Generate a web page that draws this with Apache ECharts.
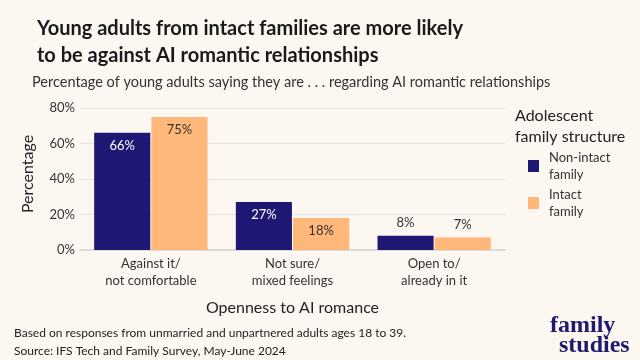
<!DOCTYPE html>
<html><head><meta charset="utf-8">
<script src="https://cdn.jsdelivr.net/npm/echarts@6/dist/echarts.min.js"></script>
<style>html,body{margin:0;padding:0;background:#fdf7f2}#c{width:640px;height:360px}</style>
</head><body><div id="c"></div>
<script>
const categories = ['Against it/\nnot comfortable', 'Not sure/\nmixed feelings', 'Open to/\nalready in it'];
const nonIntact = [66, 27, 8];
const intact = [75, 18, 7];
const yTicks = [0, 20, 40, 60, 80];
const seriesNames = ['Non-intact\nfamily', 'Intact\nfamily'];

const F = 'Lato';
const chart = echarts.init(document.getElementById('c'));
function mk(vals, white) {
  return vals.map(v => ({
    value: v,
    label: { position: v >= 15 ? 'insideTop' : 'top', color: (v >= 15 && white) ? '#ffffff' : '#333333' }
  }));
}
chart.setOption({
  backgroundColor: '#fdf7f2',
  animation: false,
  title: [
    { text: 'Young adults from intact families are more likely\nto be against AI romantic relationships', left: 32, top: 10,
      textStyle: { fontFamily: F, fontWeight: 'bold', fontSize: 20, color: '#1a1a1a', lineHeight: 27 } },
    { text: 'Percentage of young adults saying they are . . . regarding AI romantic relationships', left: 32, top: 73, padding: 0,
      textStyle: { fontFamily: F, fontWeight: 'normal', fontSize: 14.5, color: '#333333', lineHeight: 18 } },
    { text: 'Based on responses from unmarried and unpartnered adults ages 18 to 39.\nSource: IFS Tech and Family Survey, May-June 2024', left: 14, top: 324, padding: 0,
      textStyle: { fontFamily: F, fontWeight: 'normal', fontSize: 12, color: '#222222', lineHeight: 18 } }
  ],
  grid: { left: 80, right: 135, top: 108, bottom: 110 },
  legend: {
    orient: 'vertical', left: 528, top: 149, itemWidth: 11, itemHeight: 12, itemGap: 3,
    icon: 'rect', padding: 0,
    textStyle: { fontFamily: F, fontSize: 13, color: '#333333', lineHeight: 17, padding: [0, 0, 0, 5] },
    data: seriesNames
  },
  graphic: [
    { type: 'text', left: 515, top: 105, style: { text: 'Adolescent\nfamily structure', font: '16px Lato', fill: '#222222', lineHeight: 21 } },
    { type: 'text', x: 28, y: 174, rotation: Math.PI / 2, style: { text: 'Percentage', font: '16px Lato', fill: '#222222', align: 'center', verticalAlign: 'middle' } },
    { type: 'text', left: 550, top: 314, style: { text: 'family', font: 'bold 24px "Liberation Serif"', fill: '#1e1a6e' } },
    { type: 'text', left: 559, top: 334, style: { text: 'studies', font: 'bold 24px "Liberation Serif"', fill: '#1e1a6e' } }
  ],
  xAxis: {
    type: 'category', data: categories,
    name: 'Openness to AI romance', nameLocation: 'middle', nameGap: 50,
    nameTextStyle: { fontFamily: F, fontSize: 16, color: '#222222' },
    axisLine: { lineStyle: { color: '#dcdcdc', width: 2 } },
    axisTick: { show: false },
    axisLabel: { fontFamily: F, fontSize: 13, color: '#333333', lineHeight: 17, margin: 5 }
  },
  yAxis: {
    type: 'value', min: 0, max: 80, interval: 20,
    axisLabel: { fontFamily: F, fontSize: 13, color: '#333333', formatter: v => yTicks.includes(v) ? v + '%' : '', margin: 5 },
    splitLine: { lineStyle: { color: '#e3e3e3' } },
    axisTick: { show: false }, axisLine: { show: false }
  },
  series: [
    { name: seriesNames[0], type: 'bar', data: mk(nonIntact, true), barCategoryGap: '20%', barGap: '2%',
      itemStyle: { color: '#1e1874' },
      label: { show: true, formatter: '{c}%', fontFamily: F, fontSize: 13, distance: 6 } },
    { name: seriesNames[1], type: 'bar', data: mk(intact, false),
      itemStyle: { color: '#ffb87a' },
      label: { show: true, formatter: '{c}%', fontFamily: F, fontSize: 13, distance: 6 } }
  ]
});
</script></body></html>
